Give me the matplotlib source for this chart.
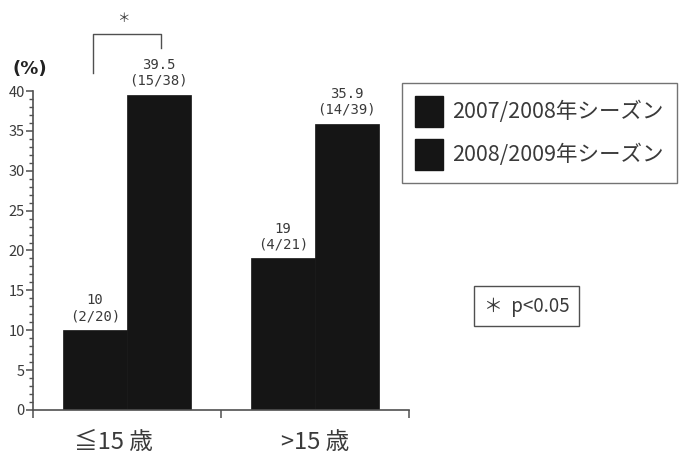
import matplotlib
matplotlib.use("Agg")
import matplotlib.pyplot as plt
from matplotlib.patches import Patch
from matplotlib.ticker import MultipleLocator
from matplotlib.transforms import blended_transform_factory

plt.rcParams['font.family'] = ['Noto Sans CJK JP', 'DejaVu Sans']

# Data
age_groups = ["≦15 歳", ">15 歳"]
seasons = ["2007/2008年シーズン", "2008/2009年シーズン"]
rates = {
    "2007/2008年シーズン": [10, 19],
    "2008/2009年シーズン": [39.5, 35.9],
}
counts = {
    "2007/2008年シーズン": ["2/20", "4/21"],
    "2008/2009年シーズン": ["15/38", "14/39"],
}
value_labels = {
    "2007/2008年シーズン": ["10", "19"],
    "2008/2009年シーズン": ["39.5", "35.9"],
}

bar_color = "#151515"
text_color = "#3a3a3a"
axis_color = "#505050"

fig = plt.figure(figsize=(6.8, 4.55), dpi=100)
ax = fig.add_axes([0.0485, 0.099, 0.5525, 0.701])

width = 0.34
centers = [0.5, 1.5]
offsets = [-width / 2, width / 2]

for s, off in zip(seasons, offsets):
    xs = [c + off for c in centers]
    ax.bar(xs, rates[s], width=width, color=bar_color, edgecolor=bar_color,
           linewidth=0.5)
    for x, v, lab, n in zip(xs, rates[s], value_labels[s], counts[s]):
        ax.text(x, v + 0.9, f"{lab}\n({n})", ha="center", va="bottom",
                fontsize=10, color=text_color, linespacing=1.15,
                family=["DejaVu Sans Mono"])

ax.set_xlim(0, 2)
ax.set_ylim(0, 40)

# Axes styling
for side in ("top", "right"):
    ax.spines[side].set_visible(False)
for side in ("left", "bottom"):
    ax.spines[side].set_color(axis_color)
    ax.spines[side].set_linewidth(1.2)

ax.yaxis.set_major_locator(MultipleLocator(5))
ax.yaxis.set_minor_locator(MultipleLocator(1))
ax.tick_params(axis="y", which="major", length=5, width=1.1, color=axis_color,
               labelsize=10.5, labelcolor=text_color, pad=1)
ax.tick_params(axis="y", which="minor", length=3, width=1.0, color=axis_color)

ax.set_xticks([0, 1, 2])
ax.set_xticklabels(["", "", ""])
ax.tick_params(axis="x", which="major", length=6, width=1.1, color=axis_color)

# Group labels under the axis
xlab_tf = blended_transform_factory(ax.transData, ax.transAxes)
label_shift = [-0.07, 0.0]
for c, name, dx in zip(centers, age_groups, label_shift):
    ax.text(c + dx, -0.103, name, transform=xlab_tf, ha="center",
            va="center", fontsize=17, color=text_color)

# Y-axis unit
fig.text(0.018, 0.848, "(%)", fontsize=13, fontweight="bold",
         color="#222222", family=["DejaVu Sans"], va="center")

# Significance bracket between the two seasons of the first group
bx0 = centers[0] - width / 2 - 0.01
bx1 = centers[0] + width / 2 + 0.01
ax.plot([bx0, bx0, bx1, bx1], [42.3, 47.1, 47.1, 45.4], color=axis_color,
        linewidth=1.0, clip_on=False)
ax.text(centers[0] - 0.02, 48.3, "＊", ha="center", va="bottom", fontsize=9,
        color=text_color)

# Legend
handles = [Patch(facecolor=bar_color, edgecolor=bar_color) for _ in seasons]
leg = fig.legend(handles, seasons, loc="upper left",
                 bbox_to_anchor=(0.591, 0.818), frameon=True, fancybox=False,
                 fontsize=15.5, handlelength=1.3, handleheight=1.85,
                 handletextpad=0.45, labelspacing=0.55, borderpad=0.6,
                 borderaxespad=0)
leg.get_frame().set_edgecolor(axis_color)
leg.get_frame().set_linewidth(1.0)
for t in leg.get_texts():
    t.set_color(text_color)

# Significance note
fig.text(0.774, 0.327, "＊  p<0.05", ha="center", va="center", fontsize=13.5,
         color=text_color,
         bbox=dict(boxstyle="square,pad=0.5", facecolor="white",
                   edgecolor=axis_color, linewidth=1.0))

fig.savefig("out.png", dpi=100, facecolor="white")
